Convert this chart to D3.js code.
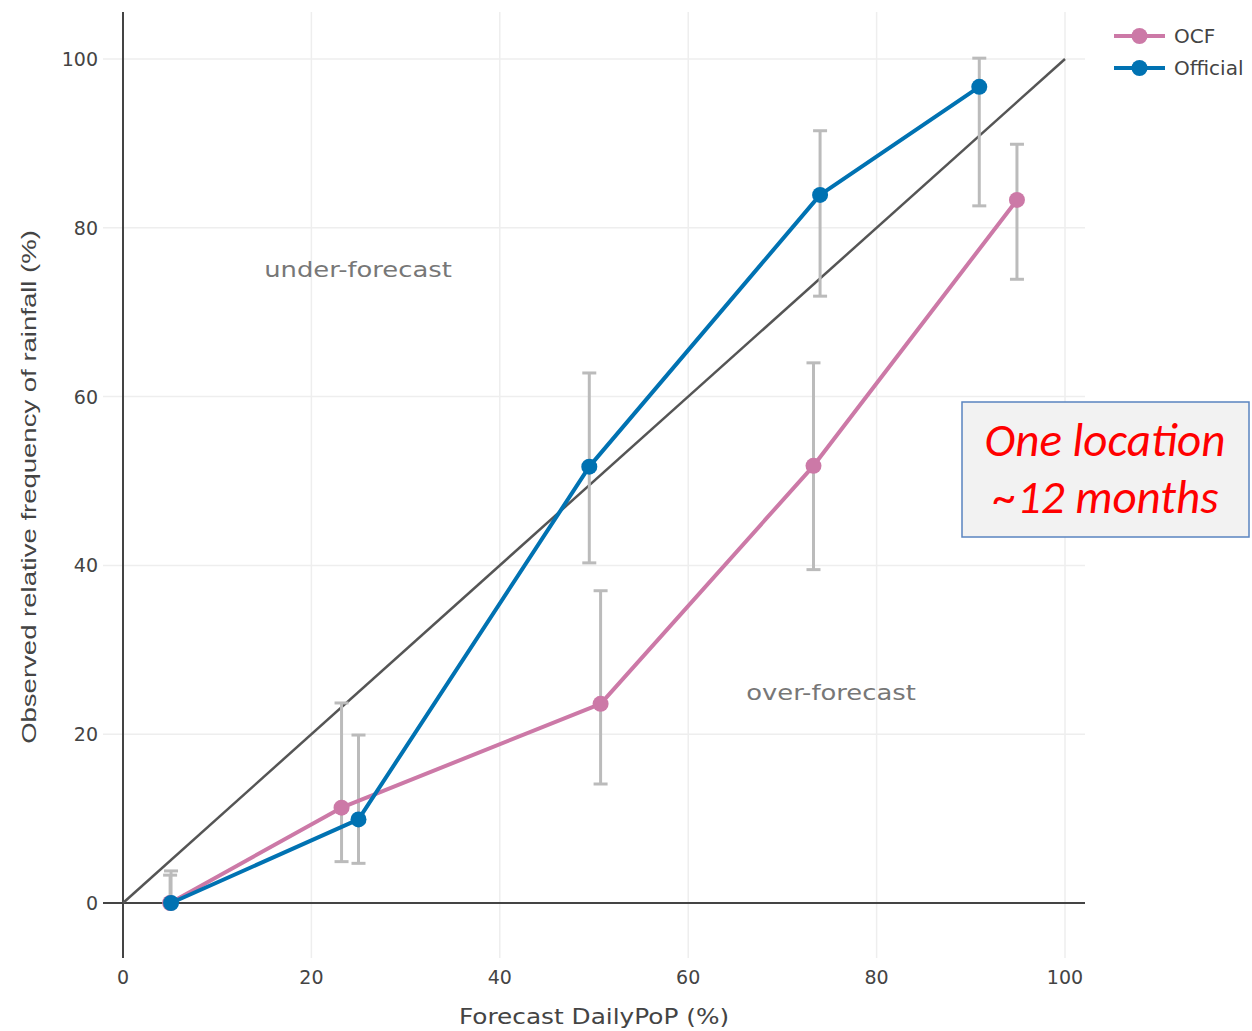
<!DOCTYPE html>
<html><head><meta charset="utf-8">
<script src="https://cdn.jsdelivr.net/npm/d3@7"></script>
<style>body{margin:0;background:#fff;} svg{display:block;}</style>
</head><body>
<svg id="c" width="1252" height="1031"></svg>
<script>
const seriesNames = ["OCF", "Official"];
const ocfX = [5.0, 23.2, 50.7, 73.3, 94.9];
const ocfY = [0, 11.3, 23.6, 51.8, 83.3];
const ocfLo = [0, 4.9, 14.1, 39.5, 73.9];
const ocfHi = [3.3, 23.7, 37.0, 64.0, 89.9];
const offX = [5.1, 25.0, 49.5, 74.0, 90.9];
const offY = [0, 9.9, 51.7, 83.9, 96.7];
const offLo = [0, 4.7, 40.3, 71.9, 82.6];
const offHi = [3.8, 19.9, 62.8, 91.5, 100.1];
const xTicks = [0, 20, 40, 60, 80, 100];
const yTicks = [0, 20, 40, 60, 80, 100];
const colors = ["#cc79a7", "#0072b2"];

const svg = d3.select("#c");
const x = d3.scaleLinear().domain([0, 100]).range([123, 1065]);
const y = d3.scaleLinear().domain([0, 100]).range([903, 59]);
const pLeft = 103, pRight = 1085, pTop = 12, pBottom = 958;

// grid
svg.append("g").selectAll("line").data(xTicks.filter(d => d !== 0)).join("line")
  .attr("x1", d => x(d)).attr("x2", d => x(d)).attr("y1", pTop).attr("y2", pBottom)
  .attr("stroke", "#eeeeee").attr("stroke-width", 1.5);
svg.append("g").selectAll("line").data(yTicks.filter(d => d !== 0)).join("line")
  .attr("y1", d => y(d)).attr("y2", d => y(d)).attr("x1", pLeft).attr("x2", pRight)
  .attr("stroke", "#eeeeee").attr("stroke-width", 1.5);

// zero lines
svg.append("line").attr("x1", x(0)).attr("x2", x(0)).attr("y1", pTop).attr("y2", pBottom)
  .attr("stroke", "#444").attr("stroke-width", 2);
svg.append("line").attr("x1", pLeft).attr("x2", pRight).attr("y1", y(0)).attr("y2", y(0))
  .attr("stroke", "#444").attr("stroke-width", 2);

// tick labels
const tickFont = "'DejaVu Sans', Verdana, sans-serif";
svg.append("g").selectAll("text").data(xTicks).join("text")
  .attr("x", d => x(d)).attr("y", 984).attr("text-anchor", "middle")
  .attr("font-family", tickFont).attr("font-size", 19).attr("fill", "#444").text(d => d);
svg.append("g").selectAll("text").data(yTicks).join("text")
  .attr("x", 98).attr("y", d => y(d) + 7).attr("text-anchor", "end")
  .attr("font-family", tickFont).attr("font-size", 19).attr("fill", "#444").text(d => d);

// stretched text helper (reference image is horizontally stretched)
function stretched(tx, ty, rot, sx, font, size, fill, str) {
  svg.append("text")
    .attr("transform", `translate(${tx},${ty}) rotate(${rot}) scale(${sx},1)`)
    .attr("text-anchor", "middle").attr("font-family", font).attr("font-size", size)
    .attr("fill", fill).text(str);
}
// axis titles
stretched(594, 1024, 0, 1.18, tickFont, 21, "#444", "Forecast DailyPoP (%)");
stretched(36, 487, -90, 1.31, "'Liberation Sans', Arial, sans-serif", 21, "#444",
  "Observed relative frequency of rainfall (%)");

// diagonal
svg.append("line").attr("x1", x(0)).attr("y1", y(0)).attr("x2", x(100)).attr("y2", y(100))
  .attr("stroke", "#555").attr("stroke-width", 2.5);

// annotations
stretched(358, 277, 0, 1.23, tickFont, 21, "#777", "under-forecast");
stretched(831, 700, 0, 1.23, tickFont, 21, "#777", "over-forecast");

// series
const series = [
  {name: seriesNames[0], xs: ocfX, ys: ocfY, lo: ocfLo, hi: ocfHi, color: colors[0]},
  {name: seriesNames[1], xs: offX, ys: offY, lo: offLo, hi: offHi, color: colors[1]}
];
// error bars
series.forEach(s => {
  const g = svg.append("g");
  const idx = d3.range(s.xs.length);
  g.selectAll("line.v").data(idx).join("line").attr("class", "v")
    .attr("x1", i => x(s.xs[i])).attr("x2", i => x(s.xs[i]))
    .attr("y1", i => y(s.lo[i])).attr("y2", i => y(s.hi[i]))
    .attr("stroke", "#bbbbbb").attr("stroke-width", 3);
  ["lo", "hi"].forEach(k => {
    g.selectAll("line." + k).data(idx.filter(i => s[k][i] !== 0)).join("line").attr("class", k)
      .attr("x1", i => x(s.xs[i]) - 7).attr("x2", i => x(s.xs[i]) + 7)
      .attr("y1", i => y(s[k][i])).attr("y2", i => y(s[k][i]))
      .attr("stroke", "#bbbbbb").attr("stroke-width", 3);
  });
});
const lineGen = d3.line().x(d => x(d[0])).y(d => y(d[1]));
series.forEach(s => {
  const pts = s.xs.map((v, i) => [v, s.ys[i]]);
  svg.append("path").attr("d", lineGen(pts)).attr("fill", "none")
    .attr("stroke", s.color).attr("stroke-width", 4).attr("stroke-linejoin", "round");
  svg.append("g").selectAll("circle").data(pts).join("circle")
    .attr("cx", d => x(d[0])).attr("cy", d => y(d[1])).attr("r", 8).attr("fill", s.color);
});

// legend
series.forEach((s, i) => {
  const ly = 36 + i * 32;
  svg.append("line").attr("x1", 1114).attr("x2", 1165).attr("y1", ly).attr("y2", ly)
    .attr("stroke", s.color).attr("stroke-width", 4);
  svg.append("circle").attr("cx", 1139.5).attr("cy", ly).attr("r", 8).attr("fill", s.color);
  svg.append("text").attr("x", 1174).attr("y", ly + 7).attr("font-family", tickFont)
    .attr("font-size", 20).attr("fill", "#444").text(s.name);
});

// note box
svg.append("rect").attr("x", 962).attr("y", 402).attr("width", 287).attr("height", 135)
  .attr("fill", "#f2f2f2").attr("stroke", "#5a84c0").attr("stroke-width", 1.5);
const noteFont = "Carlito, Lato, 'Open Sans', sans-serif";
svg.append("text").attr("x", 1105).attr("y", 456).attr("text-anchor", "middle")
  .attr("font-family", noteFont).attr("font-style", "italic").attr("font-size", 47).attr("fill", "#ff0000")
  .text("One location");
svg.append("text").attr("x", 1106).attr("y", 513).attr("text-anchor", "middle")
  .attr("font-family", noteFont).attr("font-style", "italic").attr("font-size", 47).attr("fill", "#ff0000")
  .text("~12 months");
</script>
</body></html>
